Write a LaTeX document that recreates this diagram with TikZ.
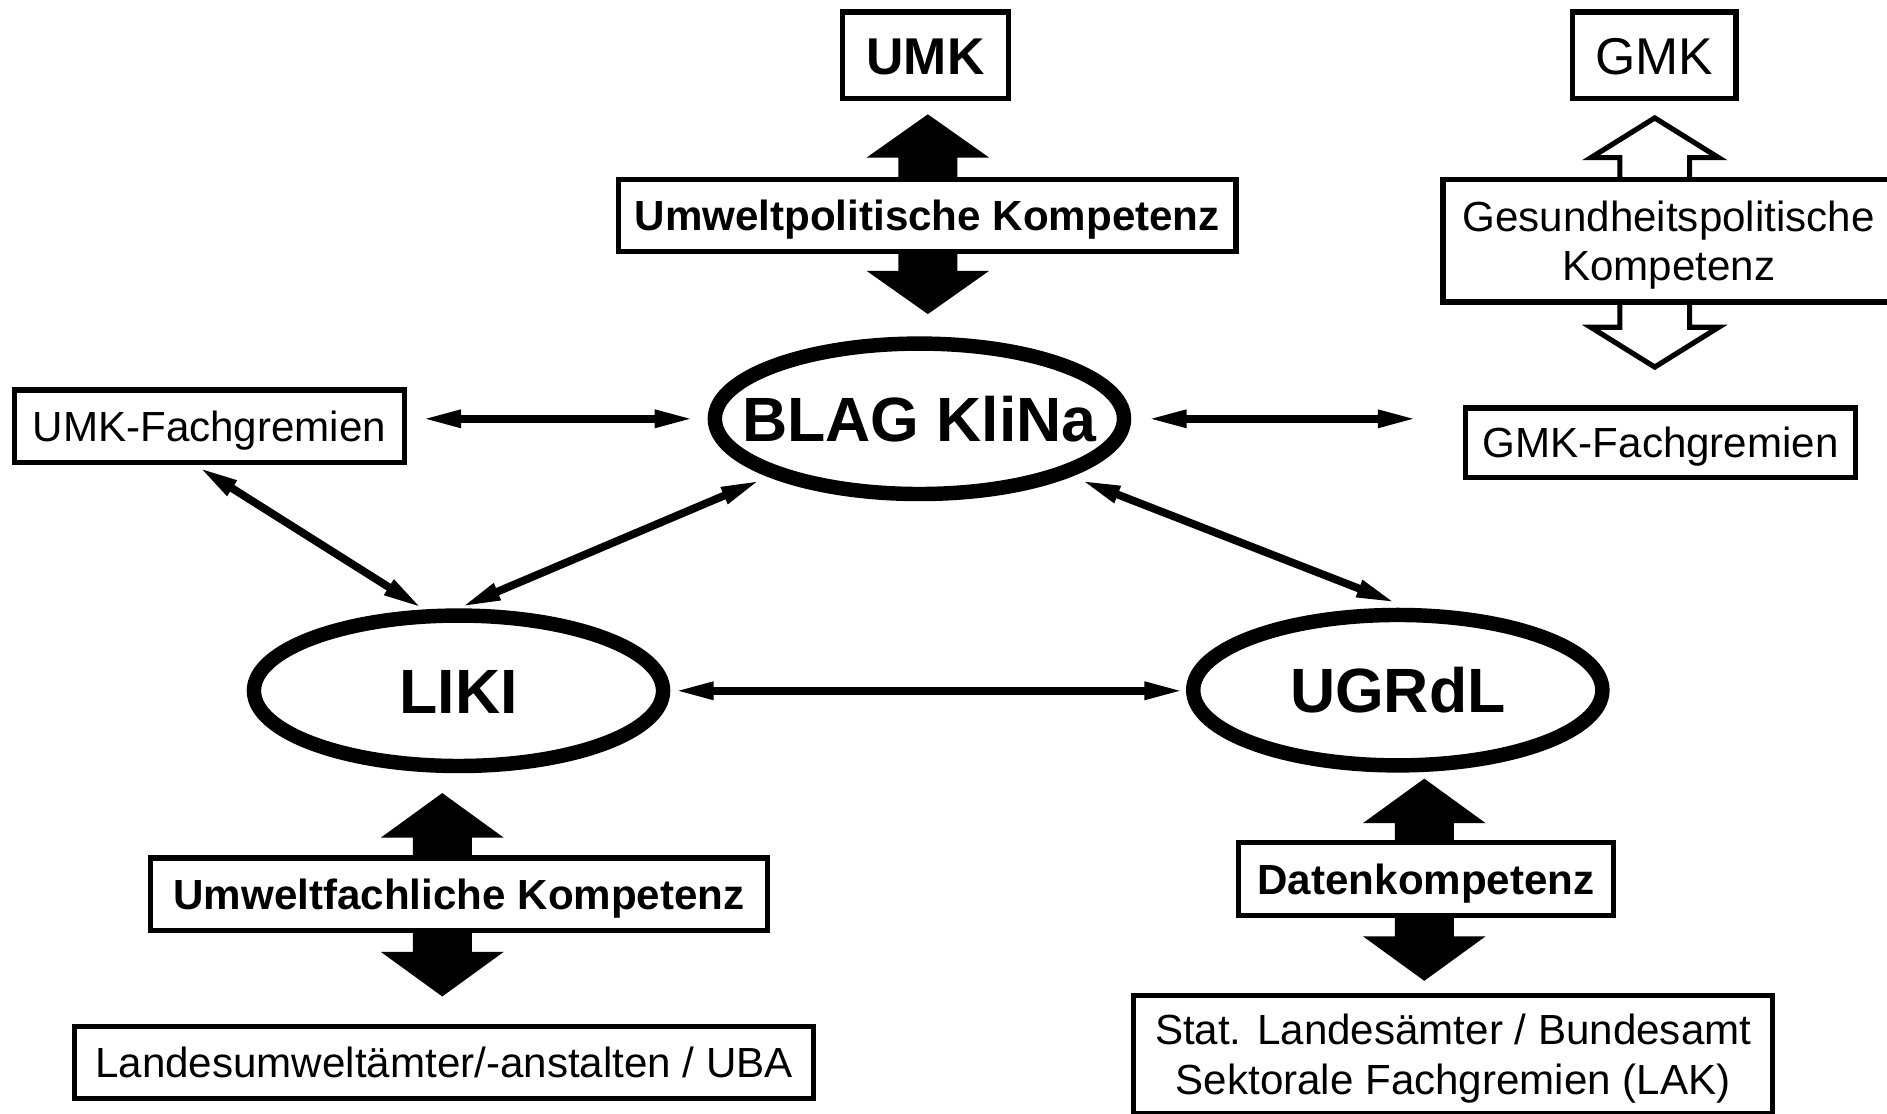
\documentclass[tikz,border=0pt]{standalone}
\usepackage{fontspec}
\setmainfont{Liberation Sans}
\usetikzlibrary{arrows.meta,shapes.geometric,calc}

\newcommand\myblockarrow[4]{%
  \fill[black] (#1-24.5,#2) -- (#1-24.5,#3) -- (#1-51,#3) -- (#1,#4) -- (#1+51,#3) -- (#1+24.5,#3) -- (#1+24.5,#2) -- cycle;}
\newcommand\myhollowarrow[4]{%
  \path[hollowarrow] (#1-29,#2) -- (#1-29,#3) -- (#1-53,#3) -- (#1,#4) -- (#1+53,#3) -- (#1+29,#3) -- (#1+29,#2);}

\begin{document}
\begin{tikzpicture}[x=1pt,y=-1pt,
  box/.style={draw, line width=4.3pt, fill=white, inner sep=0pt, align=center},
  rf/.style={font=\fontsize{35}{41}\selectfont, text height=25pt, text depth=0pt},
  rftwo/.style={font=\fontsize{35}{41}\selectfont, text depth=0pt},
  bf/.style={font=\fontsize{35}{41}\selectfont\bfseries, text height=25pt, text depth=0pt},
  big/.style={font=\fontsize{43}{50}\selectfont, text height=31pt, text depth=0pt},
  bigb/.style={font=\fontsize{43}{50}\selectfont\bfseries, text height=31pt, text depth=0pt},
  oval/.style={ellipse, draw, line width=12pt, fill=white, minimum width=340pt, minimum height=125pt,
    inner sep=0pt, font=\fontsize{52}{60}\selectfont\bfseries, text height=37pt, text depth=0pt},
  link/.style={line width=6.5pt, {Triangle[length=33pt,width=13.5pt]}-{Triangle[length=33pt,width=13.5pt]}},
  hollowarrow/.style={draw, line width=4.3pt, fill=white, line join=miter}
]
\fill[white] (0,0) rectangle (1568,925);
\useasboundingbox (0,0) rectangle (1568,925);

% block arrows (drawn first, boxes cover their bases)
\myblockarrow{771}{150}{131}{95}
\myblockarrow{771}{208}{225}{261}
\myblockarrow{367.5}{714}{696}{659}
\myblockarrow{367.5}{772}{791}{828}
\myblockarrow{1183.5}{701}{684}{647}
\myblockarrow{1183.5}{760}{778}{815}
\myhollowarrow{1375}{149}{131}{98}
\myhollowarrow{1375}{251}{272}{305}

% boxes
\node[box,bigb,minimum width=138pt,minimum height=72pt] (umk) at (769,46) {UMK};
\node[box,bf,minimum width=513pt,minimum height=60pt] (upk) at (770.5,179) {Umweltpolitische Kompetenz};
\node[box,big,minimum width=136pt,minimum height=72pt] (gmk) at (1374.5,46) {GMK};
\node[box,rftwo,minimum width=375pt,minimum height=102pt] (gpk) at (1386.5,200) {Gesundheitspolitische\\Kompetenz};
\node[box,rf,minimum width=324pt,minimum height=58pt] (gmkf) at (1380,368) {GMK-Fachgremien};
\node[box,rf,minimum width=324pt,minimum height=60pt] (umkf) at (174,354) {UMK-Fachgremien};
\node[box,bf,minimum width=513pt,minimum height=60pt] (ufk) at (381.5,743) {Umweltfachliche Kompetenz};
\node[box,rf,minimum width=614pt,minimum height=60pt] (lua) at (369,883) {Landesumwelt\"amter/-anstalten / UBA};
\node[box,bf,minimum width=312pt,minimum height=61pt] (dk) at (1185,730.5) {Datenkompetenz};
\node[box,rftwo,minimum width=531pt,minimum height=98pt] (stat) at (1207.5,876) {Stat. Landes\"amter / Bundesamt\\Sektorale Fachgremien (LAK)};

% ellipses
\node[oval] (blag) at (764,348) {\makebox[0pt]{BLAG KliNa}};
\node[oval] (liki) at (381,574) {\makebox[0pt]{LIKI}};
\node[oval] (ugrdl) at (1161.5,573.5) {\makebox[0pt]{UGRdL}};

% connectors
\draw[link] ($(umkf.east |- blag.west)+(12,0)$) -- ($(blag.west)+(-11,0)$);
\draw[link] ($(blag.east)+(13,0)$) -- ($(gmkf.west |- blag.east)+(-38,0)$);
\draw[link] ($(umkf.south)+(-9,2)$) -- ($(liki.north)+(-30,0)$);
\draw[link] ($(blag.center)+(-132,51)$) -- ($(liki.north)+(2,-1)$);
\draw[link] ($(blag.center)+(134,51)$) -- ($(ugrdl.north)+(-1.5,-4)$);
\draw[link] ($(liki.east)+(3,0)$) -- ($(ugrdl.west |- liki.east)+(-1.5,0)$);
\end{tikzpicture}
\end{document}
